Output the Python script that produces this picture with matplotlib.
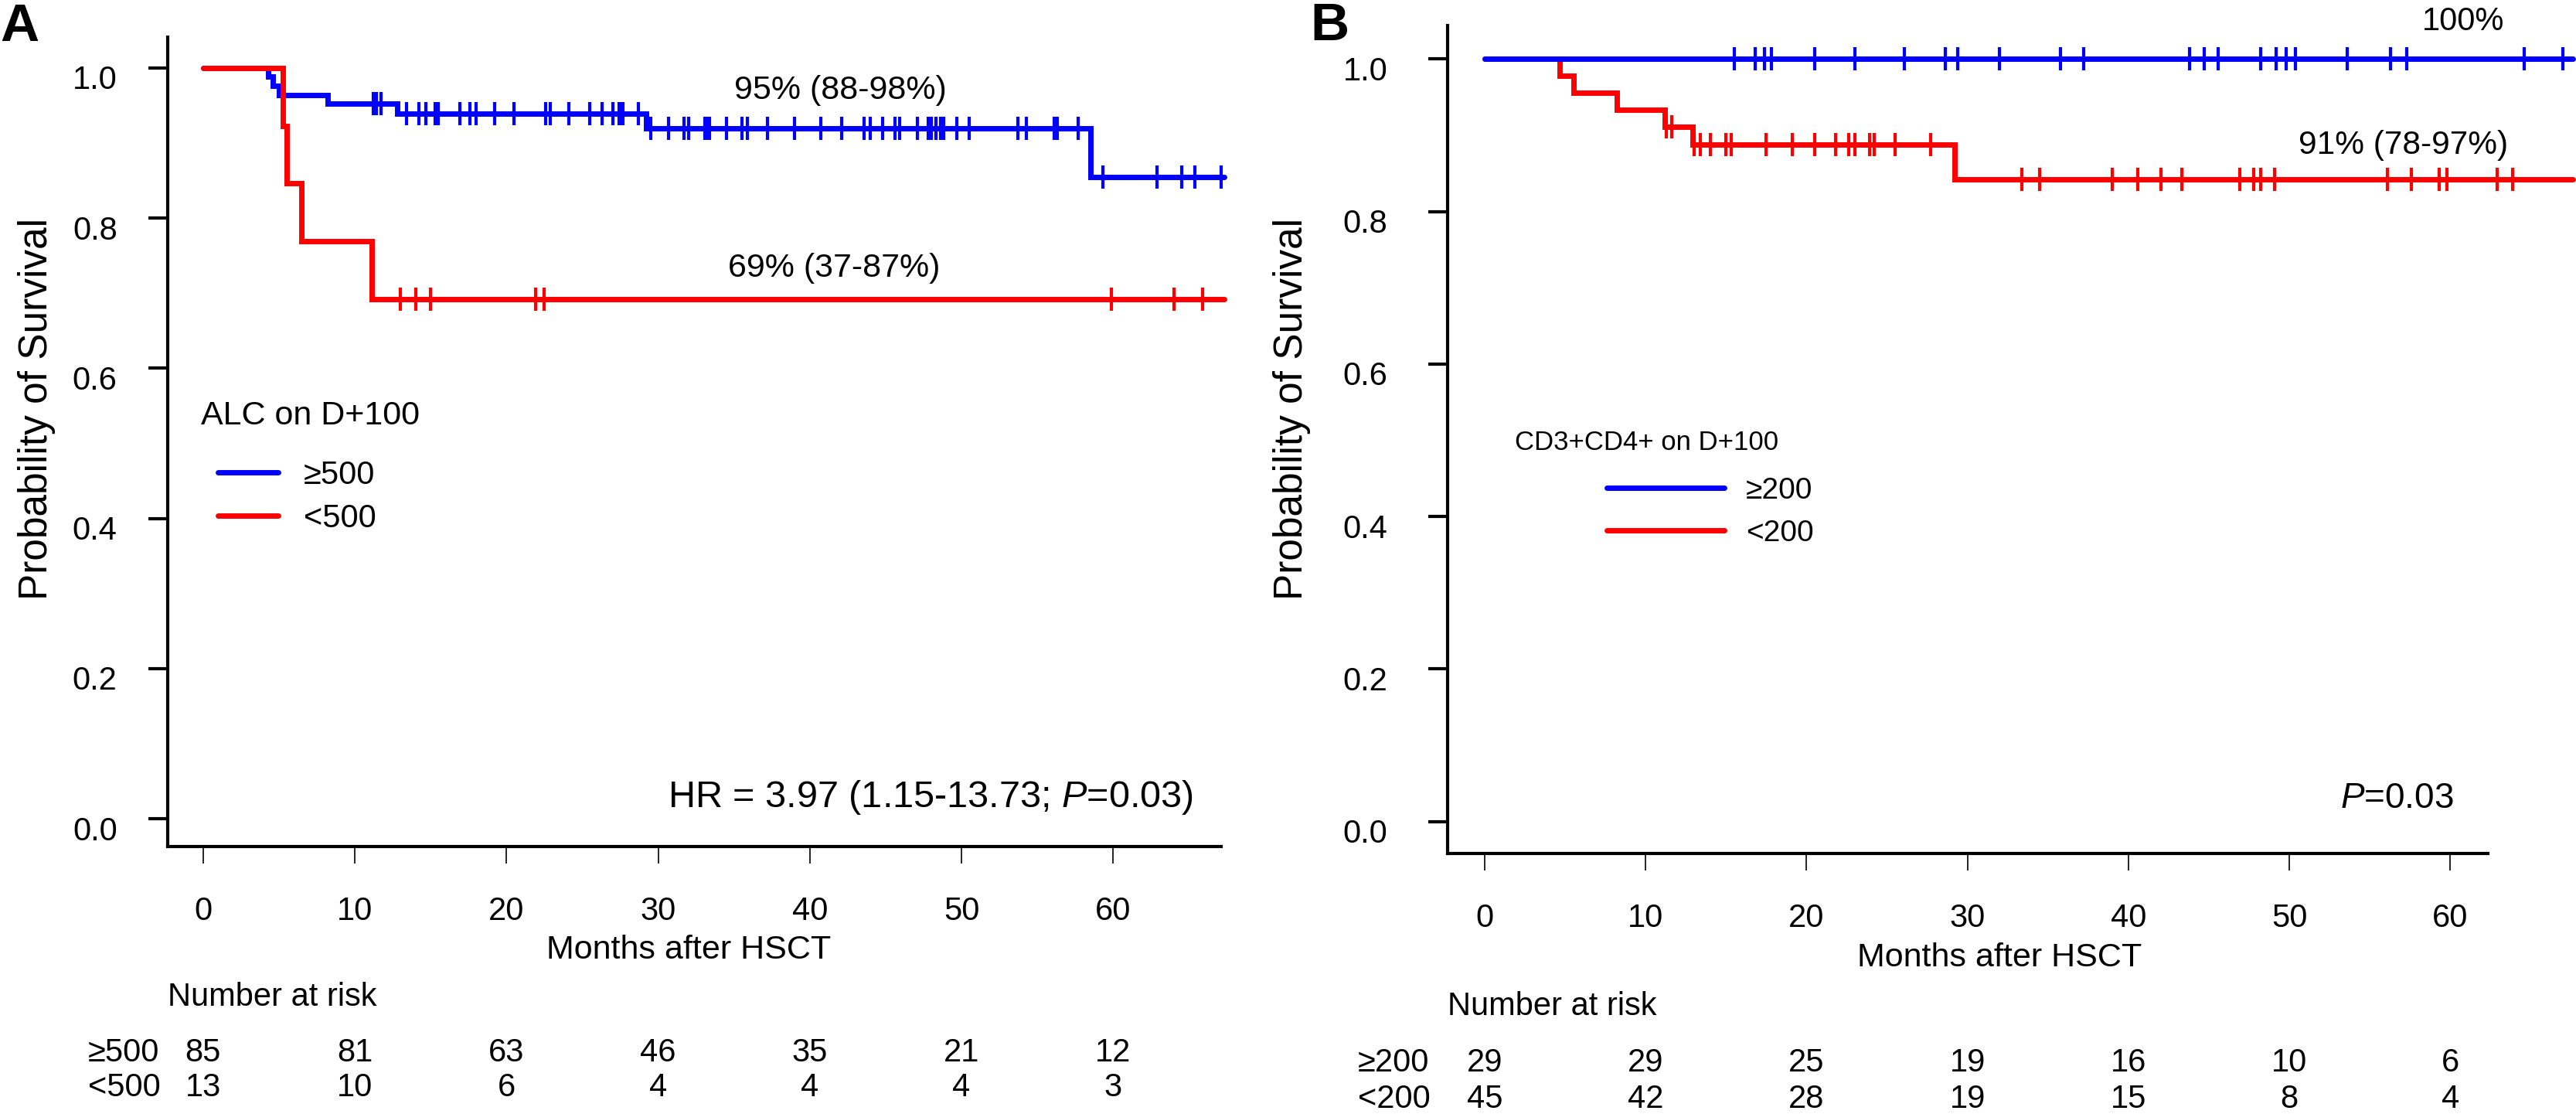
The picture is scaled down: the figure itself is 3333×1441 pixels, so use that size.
import numpy as np
import matplotlib
matplotlib.use('Agg')
import matplotlib.pyplot as plt
from matplotlib import transforms

plt.rcParams['font.family'] = ['Liberation Sans', 'DejaVu Sans']
plt.rcParams['mathtext.fontset'] = 'custom'
plt.rcParams['mathtext.rm'] = 'Liberation Sans'
plt.rcParams['mathtext.it'] = 'Liberation Sans:italic'

##### panel A : ALC on D+100

a_hi_time = [0, 4.3, 4.6, 5.0, 8.2, 12.8, 29.2, 58.5]
a_hi_surv = [1.0, 0.988, 0.976, 0.964, 0.952, 0.939, 0.919, 0.855]
a_hi_end = 67.3
a_hi_cens = [11.2, 11.4, 11.7,
             13.4, 14.2, 14.7, 15.3, 15.5, 16.9, 17.6, 18.0, 19.2, 20.5, 22.6, 22.9,
             24.1, 25.5, 26.3, 27.0, 27.4, 27.6, 27.7, 28.7,
             29.5, 30.7, 31.7, 32.0, 33.1, 33.2, 33.3, 33.4, 34.5, 35.5, 35.9, 37.2,
             39.0, 40.7, 42.1, 43.6, 44.0, 44.8, 45.6, 45.9, 47.1, 47.8, 48.0, 48.3,
             48.6, 48.8, 49.7, 50.5, 53.7, 54.3, 56.1, 56.3, 57.7,
             59.3, 62.9, 64.5, 65.4, 67.1]

a_lo_time = [0, 5.25, 5.5, 6.5, 11.1]
a_lo_surv = [1.0, 0.923, 0.846, 0.769, 0.692]
a_lo_end = 67.3
a_lo_cens = [13.0, 14.0, 15.0, 21.9, 22.5, 59.9, 64.0, 65.9]

##### panel B : CD3+CD4+ on D+100

b_hi_time = [0]
b_hi_surv = [1.0]
b_hi_end = 67.6
b_hi_cens = [15.5, 16.8, 17.4, 17.8, 20.5, 23.0, 26.1, 28.6, 29.4, 32.0, 35.8, 37.2,
             43.8, 44.7, 45.6, 48.2, 49.2, 49.8, 50.4, 53.6, 56.3, 57.3, 64.6, 67.0]

b_lo_time = [0, 4.66, 5.5, 8.2, 11.2, 12.9, 29.2]
b_lo_surv = [1.0, 0.978, 0.956, 0.933, 0.911, 0.888, 0.842]
b_lo_end = 67.6
b_lo_cens = [11.3, 11.6,
             13.0, 13.4, 14.0, 15.0, 15.3, 17.5, 19.1, 20.5, 21.8, 22.6, 23.0, 23.9,
             24.2, 25.5, 27.7,
             33.4, 34.5, 39.0, 40.6, 42.0, 43.3, 46.9, 47.8, 48.2, 49.1, 56.1, 57.6,
             59.3, 59.8, 62.9, 63.9]

risk_months = [0, 10, 20, 30, 40, 50, 60]
a_risk_hi = [85, 81, 63, 46, 35, 21, 12]
a_risk_lo = [13, 10, 6, 4, 4, 4, 3]
b_risk_hi = [29, 29, 25, 19, 16, 10, 6]
b_risk_lo = [45, 42, 28, 19, 15, 8, 4]

#####

W, H = 3333, 1441
fig = plt.figure(figsize=(W/100., H/100.), dpi=100)

def fx(px):
    return px / W

def fy(py):
    return 1. - py / H

fs = 30
lw = 5

def km(ax, times, surv, end, cens, color):
    tt = list(times) + [end]
    ss = list(surv) + [surv[-1]]
    ln, = ax.step(tt, ss, where='post', color=color, lw=lw, clip_on=False,
                  solid_capstyle='round', solid_joinstyle='miter', zorder=3)
    idx = np.searchsorted(times, cens, side='right') - 1
    cy = np.array(surv)[idx]
    ax.plot(cens, cy, linestyle='none', marker='|', markersize=21, mew=3,
            color=color, clip_on=False, zorder=3)
    return ln

def style_axes(ax, xlim, ylim, ylabpad):
    ax.set_xlim(xlim)
    ax.set_ylim(ylim)
    for s in ['top', 'right']:
        ax.spines[s].set_visible(False)
    for s in ['left', 'bottom']:
        ax.spines[s].set_linewidth(3)
    ax.set_xticks(risk_months)
    ax.set_yticks([0, 0.2, 0.4, 0.6, 0.8, 1.0])
    ax.set_yticklabels(['0.0', '0.2', '0.4', '0.6', '0.8', '1.0'])
    ax.tick_params(axis='y', direction='out', length=18, width=3, pad=ylabpad, labelsize=fs)
    ax.tick_params(axis='x', direction='out', length=16, width=1.2, pad=30, labelsize=fs)
    off = transforms.ScaledTranslation(0, -0.12, fig.dpi_scale_trans)
    for lab in ax.get_yticklabels():
        lab.set_transform(lab.get_transform() + off)

# panel A
axA = fig.add_axes([fx(217), fy(1095), fx(1580-217), (1095-48)/H])
style_axes(axA, (-2.34, 67.12), (-0.037, 1.041), 29)
lnA_hi = km(axA, a_hi_time, a_hi_surv, a_hi_end, a_hi_cens, '#0000ff')
lnA_lo = km(axA, a_lo_time, a_lo_surv, a_lo_end, a_lo_cens, '#ff0000')

axA.text(42.0, 0.970, '95% (88-98%)', fontsize=31, ha='center', va='center')
axA.text(41.6, 0.733, '69% (37-87%)', fontsize=31, ha='center', va='center')
axA.text(65.3, 0.028, r'HR = 3.97 (1.15-13.73; $\it{P}$=0.03)', fontsize=35, ha='right', va='center')
axA.text(-0.15, 0.537, 'ALC on D+100', fontsize=31, ha='left', va='center')
axA.legend([lnA_hi, lnA_lo], ['\u2265500', '<500'], loc='upper left',
           bbox_to_anchor=(0.97, 0.478), bbox_transform=axA.transData,
           frameon=False, fontsize=30, handlelength=1.87, handletextpad=0.8,
           labelspacing=0.39, borderpad=0, borderaxespad=0)

# panel B
axB = fig.add_axes([fx(1873), fy(1104), fx(3219-1873), (1104-33)/H])
style_axes(axB, (-2.31, 62.34), (-0.042, 1.044), 38)
lnB_lo = km(axB, b_lo_time, b_lo_surv, b_lo_end, b_lo_cens, '#ff0000')
lnB_hi = km(axB, b_hi_time, b_hi_surv, b_hi_end, b_hi_cens, '#0000ff')

axB.text(60.8, 1.049, '100%', fontsize=30, ha='center', va='center', clip_on=False)
axB.text(57.1, 0.887, '91% (78-97%)', fontsize=30.5, ha='center', va='center')
axB.text(60.2, 0.030, r'$\it{P}$=0.03', fontsize=33, ha='right', va='center')
axB.text(1.85, 0.497, 'CD3+CD4+ on D+100', fontsize=25, ha='left', va='center')
axB.legend([lnB_hi, lnB_lo], ['\u2265200', '<200'], loc='upper left',
           bbox_to_anchor=(7.6, 0.452), bbox_transform=axB.transData,
           frameon=False, fontsize=28, handlelength=3.9, handletextpad=0.72,
           labelspacing=0.49, borderpad=0, borderaxespad=0)

# axis titles, risk tables, panel letters
for ax, xlab_y, ylab_x, nar_y, row_y, row_x, rows, names in [
        (axA, 1229, 48, 1290, (1362, 1407), 114, (a_risk_hi, a_risk_lo), ('\u2265500', '<500')),
        (axB, 1239, 1671, 1302, (1375, 1422), 1757, (b_risk_hi, b_risk_lo), ('\u2265200', '<200'))]:
    tr = transforms.blended_transform_factory(ax.transData, fig.transFigure)
    ax.text(32.0, fy(xlab_y), 'Months after HSCT', fontsize=31, ha='center', va='center', transform=tr)
    fig.text(fx(ylab_x), fy(529), 'Probability of Survival', fontsize=37, rotation=90,
             ha='center', va='center')
    ax.text(ax.get_xlim()[0], fy(nar_y), 'Number at risk', fontsize=fs, ha='left', va='center', transform=tr)
    for ry, vals, nm in zip(row_y, rows, names):
        fig.text(fx(row_x), fy(ry), nm, fontsize=fs, ha='left', va='center')
        for m, v in zip(risk_months, vals):
            ax.text(m, fy(ry), str(v), fontsize=fs, ha='center', va='center', transform=tr)

fig.text(fx(25), fy(35), 'A', fontsize=50, fontweight='bold', ha='center', va='center')
fig.text(fx(1720), fy(34), 'B', fontsize=50, fontweight='bold', ha='center', va='center')

fig.savefig('out.png', dpi=100)
